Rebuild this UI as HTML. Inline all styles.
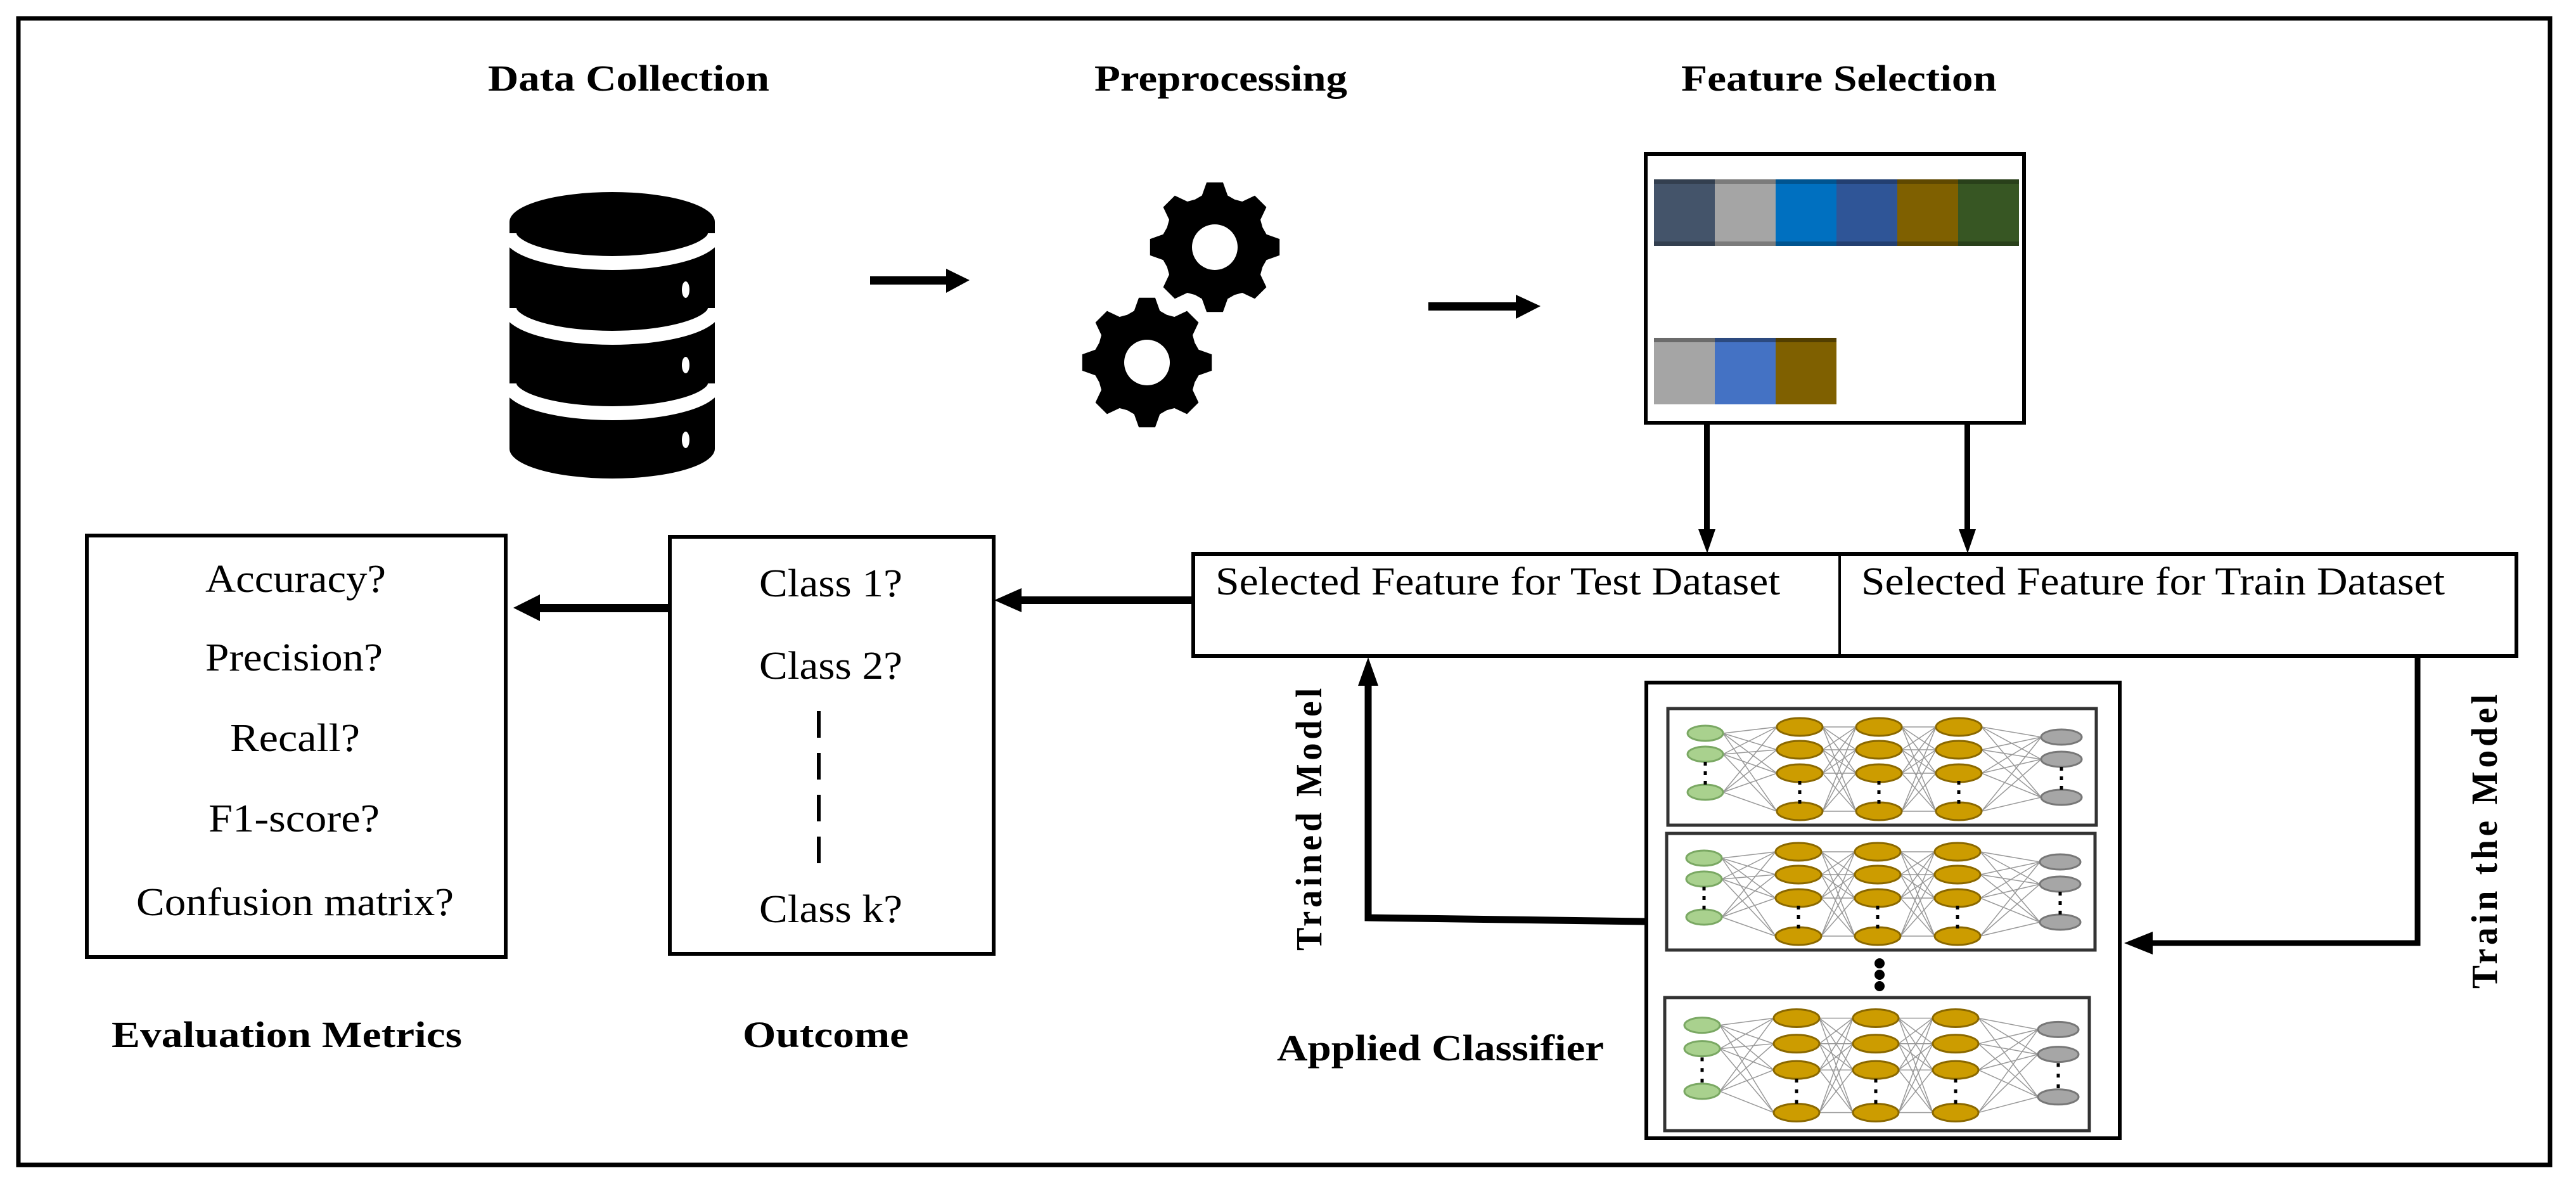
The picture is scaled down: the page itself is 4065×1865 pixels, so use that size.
<!DOCTYPE html>
<html><head><meta charset="utf-8"><style>
html,body{margin:0;padding:0;background:#fff}
svg{display:block}
text{font-family:"Liberation Serif",serif;fill:#000}
.b{font-weight:bold}
</style></head><body>
<svg id="s" width="4065" height="1865" viewBox="0 0 4065 1865" xmlns="http://www.w3.org/2000/svg">
<rect x="0" y="0" width="4065" height="1865" fill="#fff"/>
<rect x="29" y="29" width="3995" height="1809" fill="none" stroke="#000" stroke-width="7"/>

<!-- titles -->
<text class="b" x="770" y="143" font-size="58" textLength="444" lengthAdjust="spacingAndGlyphs">Data Collection</text>
<text class="b" x="1727" y="143" font-size="58" textLength="399" lengthAdjust="spacingAndGlyphs">Preprocessing</text>
<text class="b" x="2653" y="143" font-size="58" textLength="498" lengthAdjust="spacingAndGlyphs">Feature Selection</text>

<!-- database -->
<rect x="804" y="350" width="324" height="358" fill="#000"/>
<ellipse cx="966" cy="350" rx="162" ry="47" fill="#000"/>
<ellipse cx="966" cy="708" rx="162" ry="47" fill="#000"/>
<path d="M804,368 A162,47 0 0 0 1128,368" fill="none" stroke="#fff" stroke-width="22"/>
<path d="M804,486 A162,47 0 0 0 1128,486" fill="none" stroke="#fff" stroke-width="22"/>
<path d="M804,605 A162,47 0 0 0 1128,605" fill="none" stroke="#fff" stroke-width="22"/>
<ellipse cx="1082" cy="457" rx="6" ry="13" fill="#fff"/>
<ellipse cx="1082" cy="576" rx="6" ry="13" fill="#fff"/>
<ellipse cx="1082" cy="694" rx="6" ry="13" fill="#fff"/>

<!-- arrows top -->
<rect x="1373" y="436" width="122" height="13" fill="#000"/>
<polygon points="1493,424 1530,442 1493,462" fill="#000"/>
<rect x="2254" y="477" width="140" height="13" fill="#000"/>
<polygon points="2392,465 2431,483 2392,503" fill="#000"/>

<!-- gears -->
<g id="gears"></g>

<!-- feature box -->
<rect x="2597" y="243" width="597" height="424" fill="#fff" stroke="#000" stroke-width="6"/>
<rect x="2610" y="283" width="96" height="105" fill="#44546a"/>
<rect x="2706" y="283" width="96" height="105" fill="#a5a5a5"/>
<rect x="2802" y="283" width="96" height="105" fill="#0070c0"/>
<rect x="2898" y="283" width="96" height="105" fill="#2f5597"/>
<rect x="2994" y="283" width="96" height="105" fill="#7f6000"/>
<rect x="3090" y="283" width="96" height="105" fill="#375623"/>
<rect x="2610" y="283" width="576" height="7" fill="#000" opacity="0.25"/>
<rect x="2610" y="381" width="576" height="7" fill="#000" opacity="0.25"/>
<rect x="2610" y="533" width="96" height="105" fill="#a5a5a5"/>
<rect x="2706" y="533" width="96" height="105" fill="#4472c4"/>
<rect x="2802" y="533" width="96" height="105" fill="#7f6000"/>
<rect x="2610" y="533" width="288" height="7" fill="#000" opacity="0.35"/>

<!-- down arrows -->
<rect x="2689" y="667" width="9" height="170" fill="#000"/>
<polygon points="2680,835 2707,835 2694,873" fill="#000"/>
<rect x="3100" y="667" width="9" height="170" fill="#000"/>
<polygon points="3091,835 3118,835 3105,873" fill="#000"/>

<!-- selected box -->
<rect x="1883" y="874" width="2088" height="161" fill="#fff" stroke="#000" stroke-width="6"/>
<line x1="2903" y1="874" x2="2903" y2="1035" stroke="#000" stroke-width="4"/>
<text x="1918" y="938" font-size="62" textLength="891" lengthAdjust="spacingAndGlyphs">Selected Feature for Test Dataset</text>
<text x="2937" y="938" font-size="62" textLength="921" lengthAdjust="spacingAndGlyphs">Selected Feature for Train Dataset</text>

<!-- arrow selected -> outcome -->
<rect x="1610" y="941" width="273" height="12" fill="#000"/>
<polygon points="1612,928 1569,947 1612,966" fill="#000"/>

<!-- outcome box -->
<rect x="1057" y="847" width="511" height="658" fill="#fff" stroke="#000" stroke-width="6"/>
<text x="1198" y="941" font-size="62" textLength="226" lengthAdjust="spacingAndGlyphs">Class 1?</text>
<text x="1198" y="1071" font-size="62" textLength="226" lengthAdjust="spacingAndGlyphs">Class 2?</text>
<line x1="1292" y1="1122" x2="1292" y2="1378" stroke="#000" stroke-width="6" stroke-dasharray="42,24"/>
<text x="1198" y="1455" font-size="62" textLength="226" lengthAdjust="spacingAndGlyphs">Class k?</text>

<!-- arrow outcome -> metrics -->
<rect x="850" y="953" width="205" height="13" fill="#000"/>
<polygon points="852,938 810,959 852,980" fill="#000"/>

<!-- metrics box -->
<rect x="137" y="845" width="661" height="665" fill="#fff" stroke="#000" stroke-width="6"/>
<text x="324" y="934" font-size="62" textLength="285" lengthAdjust="spacingAndGlyphs">Accuracy?</text>
<text x="324" y="1058" font-size="62" textLength="280" lengthAdjust="spacingAndGlyphs">Precision?</text>
<text x="363" y="1185" font-size="62" textLength="205" lengthAdjust="spacingAndGlyphs">Recall?</text>
<text x="329" y="1312" font-size="62" textLength="270" lengthAdjust="spacingAndGlyphs">F1-score?</text>
<text x="215" y="1444" font-size="62" textLength="501" lengthAdjust="spacingAndGlyphs">Confusion matrix?</text>

<!-- bottom labels -->
<text class="b" x="176" y="1652" font-size="58" textLength="553" lengthAdjust="spacingAndGlyphs">Evaluation Metrics</text>
<text class="b" x="1172" y="1652" font-size="58" textLength="262" lengthAdjust="spacingAndGlyphs">Outcome</text>
<text class="b" x="2015" y="1673" font-size="58" textLength="516" lengthAdjust="spacingAndGlyphs">Applied Classifier</text>

<!-- classifier box -->
<rect x="2598" y="1077" width="747" height="719" fill="#fff" stroke="#000" stroke-width="6"/>
<g id="nn"></g>
<circle cx="2966" cy="1520" r="8" fill="#000"/>
<circle cx="2966" cy="1538" r="8" fill="#000"/>
<circle cx="2966" cy="1556" r="8" fill="#000"/>

<!-- trained model arrow -->
<polyline points="2597,1454 2159,1448 2159,1080" fill="none" stroke="#000" stroke-width="11"/>
<polygon points="2143,1082 2175,1082 2159,1037" fill="#000"/>
<text class="b" transform="translate(2085,1500) rotate(-90)" font-size="58" textLength="420" lengthAdjust="spacingAndGlyphs" letter-spacing="6">Trained Model</text>

<!-- train the model arrow -->
<polyline points="3815,1037 3815,1488 3395,1488" fill="none" stroke="#000" stroke-width="9"/>
<polygon points="3397,1470 3397,1506 3352,1488" fill="#000"/>
<text class="b" transform="translate(3940,1560) rotate(-90)" font-size="58" textLength="470" lengthAdjust="spacingAndGlyphs" letter-spacing="6">Train the Model</text>
</svg>
<script>
(function(){
var NS="http://www.w3.org/2000/svg";
function el(p,t,a){var e=document.createElementNS(NS,t);for(var k in a)e.setAttribute(k,a[k]);p.appendChild(e);return e;}
// gears
var g=document.getElementById("gears");
function gear(cx,cy){
  var pts=[],n=8,Ro=103,Ri=84;
  for(var i=0;i<n;i++){
    var a=i*2*Math.PI/n - Math.PI/2, d=Math.PI/n;
    var seq=[[a-d*0.62,Ri],[a-d*0.32,Ro],[a+d*0.32,Ro],[a+d*0.62,Ri],[a+d,Ri*0.97]];
    seq.forEach(function(s){pts.push((cx+s[1]*Math.cos(s[0])).toFixed(1)+","+(cy+s[1]*Math.sin(s[0])).toFixed(1));});
  }
  el(g,"polygon",{points:pts.join(" "),fill:"#000"});
  el(g,"circle",{cx:cx,cy:cy,r:36,fill:"#fff"});
}
gear(1917,390);gear(1810,572);
// networks
var nn=document.getElementById("nn");
function panel(px,py,w,h,sy){
  el(nn,"rect",{x:px,y:py,width:w,height:h,fill:"#fff",stroke:"#333","stroke-width":5});
  var cols=[{x:59,ys:[39,72,132],rx:28,ry:12,f:"#a9d18e",s:"#7aa863"},
    {x:208,ys:[29,65,102,162],rx:36,ry:14,f:"#cc9c00",s:"#8a6800"},
    {x:333,ys:[29,65,102,162],rx:36,ry:14,f:"#cc9c00",s:"#8a6800"},
    {x:459,ys:[29,65,102,162],rx:36,ry:14,f:"#cc9c00",s:"#8a6800"},
    {x:621,ys:[45,80,140],rx:32,ry:12,f:"#a6a6a6",s:"#777"}];
  for(var c=0;c<4;c++){
    var A=cols[c],B=cols[c+1];
    A.ys.forEach(function(ya){B.ys.forEach(function(yb){
      el(nn,"line",{x1:px+A.x+A.rx,y1:py+ya*sy,x2:px+B.x-B.rx,y2:py+yb*sy,stroke:"#999","stroke-width":1.5});
    });});
  }
  cols.forEach(function(C){
    C.ys.forEach(function(y){el(nn,"ellipse",{cx:px+C.x,cy:py+y*sy,rx:C.rx,ry:C.ry,fill:C.f,stroke:C.s,"stroke-width":3});});
    var y1=C.ys[C.ys.length-2]*sy,y2=C.ys[C.ys.length-1]*sy;
    for(var k=1;k<=3;k++){el(nn,"rect",{x:px+C.x-2.5,y:py+y1+(y2-y1)*k/4-3,width:5,height:6,fill:"#000"});}
  });
}
panel(2632,1118,676,184,1);
panel(2630,1315,676,184,1);
panel(2627,1574,670,210,1.12);
})();
</script>
</body></html>
